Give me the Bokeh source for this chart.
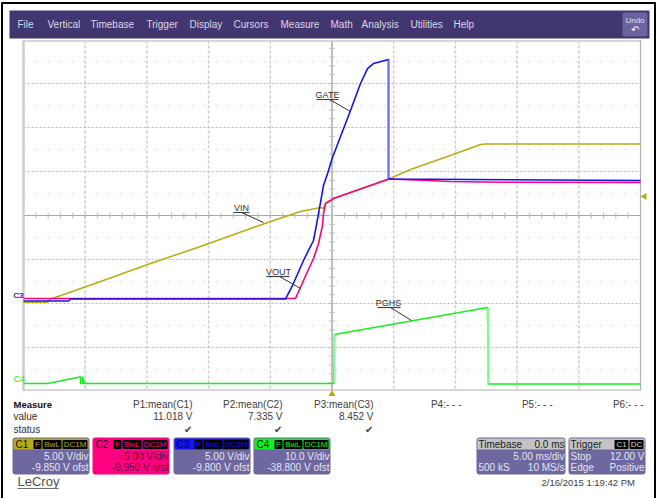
from bokeh.plotting import figure
from bokeh.models import Range1d
from bokeh.core.properties import value
from bokeh.embed import file_html
from bokeh.resources import INLINE

# ---- traces: time in ms, level in volts
C1_T = [-25.0, -23.06, -22.89, -18.76, -14.71, -10.66, -6.60, -4.98, -2.55, -0.93, -0.69, -0.53, 0.12, 1.50, 4.50, 6.36, 9.60, 12.03, 12.44, 25.0]
C1_V = [0.0, 0.0, 0.30, 2.35, 4.40, 6.33, 8.37, 9.17, 10.30, 10.76, 10.65, 11.21, 11.78, 12.46, 13.94, 15.08, 16.67, 17.92, 17.98, 17.98]
C2_T = [-25.0, -2.96, -2.31, -1.50, -1.09, -0.77, -0.69, -0.53, -0.12, 0.12, 1.50, 4.50, 4.74, 9.60, 13.65, 25.0]
C2_V = [0.52, 0.52, 2.56, 5.06, 6.77, 8.81, 10.18, 11.31, 11.65, 11.88, 12.56, 14.04, 14.1, 13.81, 13.73, 13.70]
C3_T = [-25.0, -21.35, -21.19, -3.77, -3.20, -2.31, -1.50, -1.34, -1.09, -0.93, -0.69, -0.36, 0.04, 1.50, 2.31, 2.88, 3.36, 4.58, 4.58, 4.74, 25.0]
C3_V = [0.08, 0.08, 0.31, 0.31, 1.85, 4.69, 6.96, 8.10, 10.03, 11.28, 13.21, 14.57, 16.39, 21.73, 24.80, 26.50, 27.07, 27.53, 14.0, 13.95, 13.78]
C4_T = [-25.0, -23.06, -20.46, -20.38, -20.38, -20.22, -20.22, -20.06, 0.16, 0.20, 12.60, 12.68, 25.0]
C4_V = [0.62, 0.62, 2.10, 2.10, 0.62, 0.62, 2.10, 0.62, 0.62, 11.75, 17.89, 0.50, 0.50]

CHANNELS = ["C1", "C2", "C3", "C4"]
COLORS = ["#b8ac16", "#ff0080", "#1414f0", "#14f01e"]
V_DIV = [5.0, 5.0, 5.0, 10.0]
OFFSET = [-9.85, -9.95, -9.80, -38.80]
V_DIV_TXT = ["5.00 V/div", "5.00 V/div", "5.00 V/div", "10.0 V/div"]
OFS_TXT = ["-9.850 V ofst", "-9.950 V ofst", "-9.800 V ofst", "-38.800 V ofst"]

# fast edges, which the scope paints fainter: channel, time, from level, to level, colour
EDGES = [("C3", 4.58, 27.53, 14.0, "#7070ff"),
         ("C4", 0.20, 0.62, 11.75, "#80ff90"),
         ("C4", 12.64, 17.89, 0.50, "#80ff90")]

MENU = ["File", "Vertical", "Timebase", "Trigger", "Display", "Cursors", "Measure", "Math", "Analysis", "Utilities", "Help"]
MENU_X = [17, 47, 90, 146, 189, 233, 280, 330, 361, 410, 453]

P_LABEL = ["P1:mean(C1)", "P2:mean(C2)", "P3:mean(C3)", "P4:- - -", "P5:- - -", "P6:- - -"]
P_VALUE = ["11.018 V", "7.335 V", "8.452 V", "", "", ""]
P_RIGHT = [192, 282, 373, 461, 552, 643]

# ---- screen layout
W, H = 658, 498
X0, PX_DIV_X, Y0, PX_DIV_Y = 331.5, 61.7, 215, 44
FONT = value("Liberation Sans")

p = figure(width=W, height=H, x_range=Range1d(0, W), y_range=Range1d(H, 0),
           x_axis_type=None, y_axis_type=None, toolbar_location=None,
           output_backend="svg", min_border=0, outline_line_color=None,
           background_fill_color="white", border_fill_color="white")

p.extra_x_ranges["ms"] = Range1d((0 - X0) * 5 / PX_DIV_X, (W - X0) * 5 / PX_DIV_X)
for ch, vd, of in zip(CHANNELS, V_DIV, OFFSET):
    p.extra_y_ranges[ch] = Range1d((Y0 - H) / PX_DIV_Y * vd - of, Y0 / PX_DIV_Y * vd - of)


def txt(x, y, s, color="#303030", size=10, align="left", bold=False):
    p.text([x], [y], text=[s], text_color=color, text_font_size=f"{size}px", text_align=align,
           text_baseline="middle", text_font=FONT, text_font_style="bold" if bold else "normal")


def box(l, r, t, b, color, radius=0):
    p.quad(left=[l], right=[r], top=[t], bottom=[b], fill_color=color, line_color=None, border_radius=radius)


def line(xs, ys, color, width=1.0, dash="solid"):
    p.line(xs, ys, line_color=color, line_width=width, line_dash=dash)


# page frame
line([1.5, 1.5], [2, H], "#000000", 2)
line([1, 655], [2.5, 2.5], "#000000", 2)
line([654.5, 654.5], [2, H], "#000000", 2)

# menu bar
box(9, 649, 10, 38, "#423670")
for s, x in zip(MENU, MENU_X):
    txt(x, 24, s, "#d8d8e8", 10)
box(622, 647, 12, 36, "#6d63a0", 2)
txt(634.5, 20, "Undo", "#e0e0f0", 8, "center")
txt(634.5, 29, "↶", "#ffffff", 10, "center")

# grid
for i in range(1, 10):
    x = 23 + i * PX_DIV_X
    if i != 5:
        line([x, x], [40, 390], "#cccccc", 1.5, "3 2")
for i in range(1, 8):
    y = 39 + i * PX_DIV_Y
    if i != 4:
        line([23, 640], [y, y], "#b8b8b8", 1, "2 2")
for i in range(8):
    y = 39 + (i + 0.5) * PX_DIV_Y
    line([23, 640], [y, y], "#d8d8d8", 1, "2 10")
line([X0, X0], [40, 390], "#b8b8b8", 1.8)
line([23, 640], [Y0, Y0], "#a8a8a8", 1.2)
for i in range(1, 50):
    x = 23 + i * PX_DIV_X / 5
    line([x, x], [Y0 - 3, Y0 + 3], "#b8b8b8", 1)
for i in range(1, 40):
    y = 39 + i * PX_DIV_Y / 5
    line([X0 - 3, X0 + 3], [y, y], "#c0c0c0", 1)
line([23, 23], [40, 390], "#cccccc", 2.5)
line([23, 640], [40.5, 40.5], "#c8c8c8", 1.5)
line([640, 640], [40, 390], "#b0b0b0", 1.2)
line([23, 640], [389.5, 389.5], "#b0b0b0", 1.2)

# traces
TRACES = [(C1_T, C1_V), (C2_T, C2_V), (C3_T, C3_V), (C4_T, C4_V)]
for ch, col, (t, v) in zip(CHANNELS, COLORS, TRACES):
    p.line(t, v, line_color=col, line_width=1.6, x_range_name="ms", y_range_name=ch, line_join="round")
for ch, t, v0, v1, col in EDGES:
    p.line([t, t], [v0, v1], line_color=col, line_width=1.8, x_range_name="ms", y_range_name=ch)

# annotations
for s, x, y, ul, ur, lx0, ly0, lx1, ly1 in [
    ("GATE", 327, 94, 316, 338, 329, 99, 350, 111),
    ("VIN", 241, 207, 233, 249, 241, 212, 263, 222),
    ("VOUT", 278, 271, 266, 289, 279, 276, 300, 288),
    ("PGHS", 388, 302, 377, 400, 390, 307, 411, 320),
]:
    txt(x, y, s, "#303030", 9, "center")
    line([ul, ur], [y + 5, y + 5], "#404040", 1.2)
    line([lx0, lx1], [ly0, ly1], "#303030", 1)

# channel tags and trigger markers
txt(13, 295, "C2", COLORS[1], 8)
txt(13, 295, "C1", COLORS[0], 8)
txt(13, 295, "C3", COLORS[2], 8)
txt(13, 378, "C4", COLORS[3], 9)
p.scatter([331.5], [393.5], marker="triangle", size=7, fill_color=COLORS[0], line_color=None)
p.scatter([644], [196], marker="triangle", size=7, fill_color=COLORS[0], line_color=None, angle=1.5708)

# measure table
txt(13, 404, "Measure", "#101010", 9.5, bold=True)
txt(13, 416, "value", "#303030", 10)
txt(13, 429, "status", "#303030", 10)
for s, v, r in zip(P_LABEL, P_VALUE, P_RIGHT):
    txt(r, 403.5, s, "#404040", 10, "right")
    if v:
        txt(r, 416, v, "#404040", 10, "right")
        txt(r - 5, 429, "✔", "#404040", 10, "center")

# channel boxes
BOX_L = [12, 92, 173, 253]
for i, (l, ch, col) in enumerate(zip(BOX_L, CHANNELS, COLORS)):
    r = l + 77
    body = col if ch == "C2" else "#6e68a0"
    fg = "#5a0030" if ch == "C2" else "#e4e4f0"
    box(l, r, 437, 474, body, 3)
    box(l + 1, r - 1, 438, 449, col, 2)
    txt(l + 3, 444, ch, "#101010" if ch != "C3" else "#000060", 10)
    box(l + 21, l + 29, 439.5, 448.5, "#000000", 1)
    box(l + 30, l + 49, 439.5, 448.5, "#000000", 1)
    box(l + 50, l + 75, 439.5, 448.5, "#000000", 1)
    txt(l + 25, 444, "F", col, 8, "center")
    txt(l + 39.5, 444, "BwL", col, 8, "center")
    txt(l + 62.5, 444, "DC1M", col, 8, "center")
    txt(r - 1, 456, V_DIV_TXT[i], fg, 10, "right")
    txt(r - 1, 467, OFS_TXT[i], fg, 10, "right")

# timebase and trigger boxes
box(476, 565, 437, 474, "#6e68a0", 3)
box(477, 564, 438, 449, "#c4c4c4", 1)
txt(478, 444, "Timebase", "#202020", 10)
txt(564, 444, "0.0 ms", "#202020", 10, "right")
txt(564, 456, "5.00 ms/div", "#e4e4f0", 10, "right")
txt(478, 467, "500 kS", "#e4e4f0", 10)
txt(564, 467, "10 MS/s", "#e4e4f0", 10, "right")

box(568, 645, 437, 474, "#6e68a0", 3)
box(569, 644, 438, 449, "#c4c4c4", 1)
txt(570, 444, "Trigger", "#202020", 10)
box(614, 628, 439.5, 448.5, "#000000", 1)
box(629, 643, 439.5, 448.5, "#000000", 1)
txt(621, 444, "C1", "#d8d8d8", 8, "center")
txt(636, 444, "DC", "#d8d8d8", 8, "center")
txt(570, 456, "Stop", "#e4e4f0", 10)
txt(644, 456, "12.00 V", "#e4e4f0", 10, "right")
txt(570, 467, "Edge", "#e4e4f0", 10)
txt(644, 467, "Positive", "#e4e4f0", 10, "right")

# footer
txt(541, 482, "2/16/2015 1:19:42 PM", "#404040", 9.5)
txt(17, 481, "LeCroy", "#505050", 13)
line([17, 58], [488, 488], "#707070", 1.2)

open("out.html", "w").write(file_html(p, INLINE))
